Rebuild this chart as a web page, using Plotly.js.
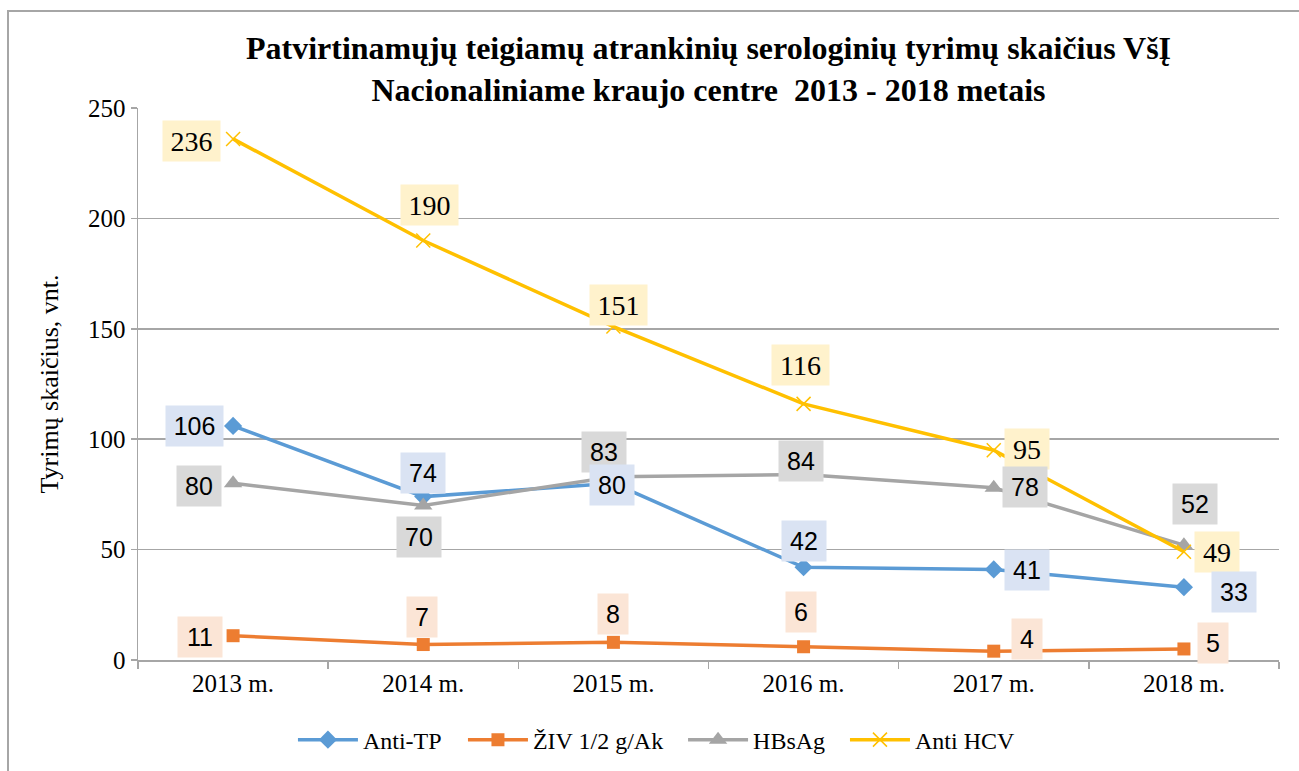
<!DOCTYPE html>
<html>
<head>
<meta charset="utf-8">
<script src="https://cdn.plot.ly/plotly-3.0.1.min.js"></script>
<style>
html,body{margin:0;padding:0;background:#fff;}
#wrap{position:relative;width:1299px;height:771px;}
#chart{position:absolute;left:0;top:0;width:1299px;height:771px;}
#bl{position:absolute;left:7px;top:10px;width:2px;height:761px;background:#A6A6A6;}
#bt{position:absolute;left:7px;top:10px;width:1292px;height:2px;background:#A6A6A6;}
</style>
</head>
<body>
<div id="wrap"><div id="chart"></div><div id="bl"></div><div id="bt"></div></div>
<script>
const categories = ["2013 m.", "2014 m.", "2015 m.", "2016 m.", "2017 m.", "2018 m."];
const seriesNames = ["Anti-TP", "ŽIV 1/2 g/Ak", "HBsAg", "Anti HCV"];
const antiTP = [106, 74, 80, 42, 41, 33];
const ziv = [11, 7, 8, 6, 4, 5];
const hbsag = [80, 70, 83, 84, 78, 52];
const antiHCV = [236, 190, 151, 116, 95, 49];
const yTicks = [0, 50, 100, 150, 200, 250];

// styling
const serif = "Liberation Serif, Times New Roman, serif";
const sans = "Liberation Sans, Arial, sans-serif";
const lineColors = ["#5B9BD5", "#ED7D31", "#A5A5A5", "#FFC000"];
const boxColors = ["#DAE3F3", "#FBE5D6", "#D9D9D9", "#FFF2CC"];
const symbols = ["diamond", "square", "triangle-up", "x-thin-open"];
const markerSizes = [14, 13, 16, 14];
const labelFonts = [sans, sans, sans, serif];
const labelSizes = [25, 25, 25, 28];
const legendIds = ["legend", "legend2", "legend3", "legend4"];
const legendX = [0.1358, 0.2848, 0.4777, 0.6196];
// label offsets in pixels [dx, dy] (dy positive = up)
const offsets = [
  [[-39, 0], [0, 24], [-1, -2], [0, 26], [33, -1], [50, -5]],
  [[-33, -1], [-1, 28], [0, 28], [-3, 35], [33, 12], [29, 6]],
  [[-34, -3], [-4, -32], [-9, 25], [-3, 14], [31, 1], [11, 41]],
  [[-42, -2], [6, 35], [5, 22], [-3, 39], [33, 1], [33, 0]]
];

const allData = [antiTP, ziv, hbsag, antiHCV];
const traces = allData.map((vals, i) => ({
  type: "scatter",
  mode: "lines+markers",
  name: seriesNames[i],
  legend: legendIds[i],
  x: categories,
  y: vals,
  line: {color: lineColors[i], width: 3.5},
  marker: {symbol: symbols[i], size: markerSizes[i], color: lineColors[i],
           line: {color: lineColors[i], width: i === 3 ? 1.5 : 0}},
  cliponaxis: false
}));

const annotations = [];
[3, 2, 1, 0].forEach(i => {
  allData[i].forEach((v, j) => {
    const s = String(v);
    annotations.push({
      x: categories[j], y: v, xref: "x", yref: "y",
      text: s, showarrow: false,
      xshift: offsets[i][j][0], yshift: offsets[i][j][1],
      bgcolor: boxColors[i],
      width: s.length === 3 ? 55 : (s.length === 2 ? 42 : 28),
      height: 38,
      borderpad: 1,
      font: {family: labelFonts[i], size: labelSizes[i], color: "#000"}
    });
  });
});

const layout = {
  width: 1299, height: 771,
  margin: {l: 138, r: 20, t: 108, b: 111, autoexpand: false},
  paper_bgcolor: "#fff", plot_bgcolor: "#fff",
  title: {
    text: "Patvirtinamųjų teigiamų atrankinių serologinių tyrimų skaičius VšĮ<br>Nacionaliniame kraujo centre  2013 - 2018 metais",
    font: {family: serif, size: 32, color: "#000", weight: "bold"},
    x: 0.5, xanchor: "center", xref: "paper", y: 0.9235, yanchor: "middle", yref: "container"
  },
  font: {family: serif, color: "#000"},
  xaxis: {
    type: "category", range: [-0.5, 5.5], tickson: "boundaries",
    ticks: "outside", ticklen: 7, tickcolor: "#A6A6A6", tickwidth: 1.5,
    showline: true, linecolor: "#A6A6A6", linewidth: 1.5,
    showgrid: false, tickfont: {size: 25, family: serif},
    fixedrange: true, automargin: false
  },
  yaxis: {
    range: [0, 250], tickvals: yTicks, ticktext: yTicks.map(String),
    ticks: "outside", ticklen: 6, tickcolor: "#A6A6A6", tickwidth: 1.5,
    showline: true, linecolor: "#A6A6A6", linewidth: 1.5,
    showgrid: true, gridcolor: "#A6A6A6", gridwidth: 1.5, zeroline: false,
    tickfont: {size: 25, family: serif},
    title: {text: "Tyrimų skaičius, vnt.", font: {size: 26, family: serif}, standoff: 22},
    fixedrange: true, automargin: false
  },
  showlegend: true,
  annotations: annotations
};
legendIds.forEach((id, i) => {
  layout[id] = {
    orientation: "h", x: legendX[i], xanchor: "left", y: -0.145, yanchor: "middle",
    font: {size: 24, family: serif}, itemwidth: 60, bgcolor: "rgba(0,0,0,0)"
  };
});

Plotly.newPlot("chart", traces, layout, {displayModeBar: false, staticPlot: true});
</script>
</body>
</html>
